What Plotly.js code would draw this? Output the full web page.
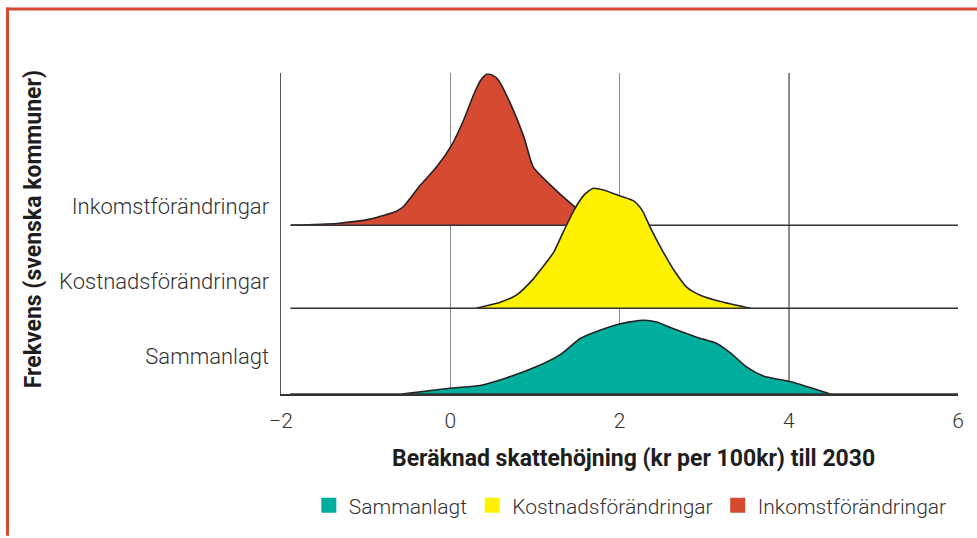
<!DOCTYPE html>
<html>
<head>
<meta charset="utf-8">
<script src="https://cdn.plot.ly/plotly-3.0.1.min.js"></script>
<style>
html,body{margin:0;padding:0;background:#fff;}
#chart{width:977px;height:538px;}
</style>
</head>
<body>
<div id="chart"></div>
<script>
// Categories (bottom to top) and their ridge baselines
const categories = ["Sammanlagt", "Kostnadsförändringar", "Inkomstförändringar"];
const baselines = [0, 1.0, 1.97];
const colors = ["#00ae9d", "#fff200", "#d64a31"];
const xDataRange = [-1.89, 6.0];

// Density curves (x = kr per 100kr, y = relative frequency)
const xSammanlagt = [-0.57, 0.02, 0.35, 0.67, 1.02, 1.30, 1.54, 1.73, 2.01, 2.28, 2.44, 2.64, 2.92, 3.15, 3.31, 3.51, 3.70, 4.06, 4.30, 4.49];
const ySammanlagt = [0, 0.07, 0.10, 0.19, 0.32, 0.46, 0.65, 0.73, 0.82, 0.86, 0.84, 0.76, 0.66, 0.59, 0.48, 0.31, 0.21, 0.135, 0.06, 0];

const xKostnad = [0.30, 0.59, 0.79, 0.98, 1.06, 1.22, 1.34, 1.46, 1.58, 1.69, 1.81, 2.01, 2.17, 2.27, 2.36, 2.52, 2.64, 2.80, 2.96, 3.23, 3.55];
const yKostnad = [0, 0.07, 0.16, 0.34, 0.44, 0.65, 0.90, 1.14, 1.32, 1.40, 1.38, 1.31, 1.25, 1.14, 0.95, 0.65, 0.45, 0.24, 0.15, 0.07, 0];

const xInkomst = [-1.88, -1.34, -0.95, -0.63, -0.55, -0.35, -0.16, 0.02, 0.16, 0.28, 0.36, 0.43, 0.50, 0.57, 0.71, 0.87, 0.98, 1.16, 1.44, 1.6, 1.8, 2.0, 2.15];
const yInkomst = [0, 0.02, 0.07, 0.165, 0.22, 0.47, 0.68, 0.94, 1.23, 1.53, 1.69, 1.76, 1.75, 1.69, 1.42, 1.03, 0.68, 0.49, 0.24, 0.12, 0.05, 0.015, 0];

const xTicks = [-2, 0, 2, 4, 6];
const yLabelPos = [0.445, 1.32, 2.19];
const xTitle = "Beräknad skattehöjning (kr per 100kr) till 2030";
const yTitle = "Frekvens (svenska kommuner)";

const series = [
  {x: xInkomst, y: yInkomst, i: 2},
  {x: xKostnad, y: yKostnad, i: 1},
  {x: xSammanlagt, y: ySammanlagt, i: 0}
];

const traces = [];
series.forEach(s => {
  traces.push({
    type: "scatter", mode: "lines",
    x: s.x, y: s.y.map(v => v + baselines[s.i]),
    fill: "toself", fillcolor: colors[s.i],
    line: {color: "#262324", width: 1.6, shape: "spline", smoothing: 0.6},
    showlegend: false, hoverinfo: "skip", name: categories[s.i]
  });
  traces.push({
    type: "scatter", mode: "lines",
    x: xDataRange, y: [baselines[s.i], baselines[s.i]],
    line: {color: "#333", width: 1.5},
    showlegend: false, hoverinfo: "skip", cliponaxis: false
  });
});
// legend entries
[0, 1, 2].forEach(i => {
  traces.push({
    type: "scatter", mode: "markers", x: [null], y: [null],
    name: categories[i],
    marker: {symbol: "square", size: 15, color: colors[i]},
    showlegend: true
  });
});

const fam = "Roboto, 'Liberation Sans', sans-serif";
const tickFont = {family: fam, size: 21, color: "#333", weight: 300};
const catFont = {family: fam, size: 22, color: "#333", weight: 300};
const legFont = {family: fam, size: 21, color: "#333", weight: 300};
const boldFont = {family: fam, size: 23, color: "#1e1e1e", weight: 700};

const layout = {
  width: 977, height: 538,
  margin: {l: 281, r: 19, t: 73, b: 141, pad: 0},
  paper_bgcolor: "#fff", plot_bgcolor: "#fff",
  showlegend: true,
  xaxis: {
    range: [-2, 6], tickvals: xTicks, showgrid: true, gridcolor: "#8c8c8c", gridwidth: 1.5,
    zeroline: false, showline: true, linecolor: "#333", linewidth: 1.5,
    tickfont: tickFont, ticks: "", ticklabelstandoff: 7, fixedrange: true
  },
  yaxis: {
    range: [0, 3.745], tickvals: yLabelPos, ticktext: categories, showgrid: false,
    zeroline: false, showline: true, linecolor: "#555", linewidth: 1.5,
    tickfont: catFont, ticks: "", ticklabelstandoff: 6, fixedrange: true
  },
  legend: {
    orientation: "h", x: 0.516, xanchor: "center", y: -0.348, yanchor: "middle",
    font: legFont, traceorder: "normal", itemclick: false, bgcolor: "rgba(0,0,0,0)"
  },
  annotations: [
    {text: xTitle, xref: "paper", yref: "paper", x: 0.52, y: -0.2, xanchor: "center", yanchor: "middle",
     showarrow: false, font: boldFont},
    {text: yTitle, xref: "paper", yref: "paper", x: -0.366, y: 0.514, xanchor: "center", yanchor: "middle",
     textangle: -90, showarrow: false, font: boldFont}
  ],
  shapes: [
    {type: "line", xref: "paper", yref: "paper", x0: (6 - 281) / 677, x1: (980 - 281) / 677,
     y0: (397 - 8.3) / 324, y1: (397 - 8.3) / 324, line: {color: "#d64a31", width: 3}},
    {type: "line", xref: "paper", yref: "paper", x0: (7.5 - 281) / 677, x1: (7.5 - 281) / 677,
     y0: (397 - 7) / 324, y1: (397 - 540) / 324, line: {color: "#d64a31", width: 3}}
  ]
};

Plotly.newPlot("chart", traces, layout, {displayModeBar: false, staticPlot: true});
</script>
</body>
</html>
